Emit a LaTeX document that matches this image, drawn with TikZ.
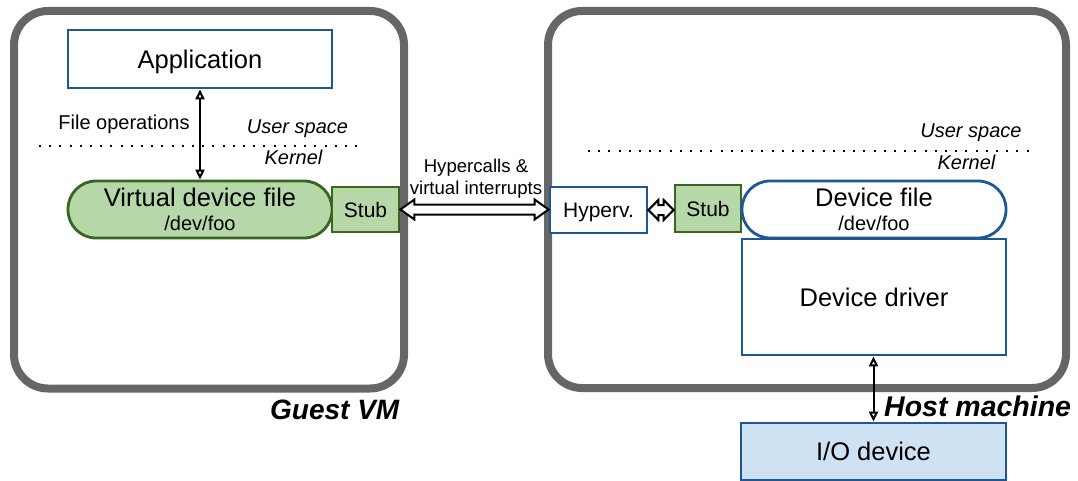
\documentclass[tikz,border=0pt]{standalone}
\usepackage{fontspec}
\setmainfont{Liberation Sans}
\usetikzlibrary{arrows.meta,calc}
\definecolor{bordblue}{RGB}{31,86,150}
\definecolor{lgreen}{HTML}{B6D7A8}
\definecolor{dgreen}{HTML}{38661E}
\definecolor{lblue}{HTML}{CFE2F3}
\definecolor{framegray}{HTML}{666666}
\tikzset{
  machine/.style={draw=framegray, line width=8pt, rounded corners=34pt},
  bluebox/.style={draw=bordblue, line width=2.8pt, fill=white, inner sep=0pt},
  greenbox/.style={draw=dgreen, line width=2.8pt, fill=lgreen, inner sep=0pt},
  pill/.style={rounded corners=28pt, inner sep=0pt, align=center},
  bigfont/.style={font=\fontsize{25.5}{27}\selectfont},
  midfont/.style={font=\fontsize{21}{24}\selectfont},
  smallfont/.style={font=\fontsize{20}{23}\selectfont},
  thinarrow/.style={line width=2pt, {Triangle[open,length=10pt,width=9pt]}-{Triangle[open,length=10pt,width=9pt]}},
  fatarrow/.style={line width=2pt, fill=white, line join=miter},
  sep/.style={line width=2pt, dash pattern=on 2pt off 8.2pt},
  lbl/.style={inner sep=0pt, anchor=base},
}
\begin{document}
\begin{tikzpicture}[x=1pt,y=-1pt]
\useasboundingbox (0,0) rectangle (1078,481);
% machines
\draw[machine] (14,11) rectangle (404,388.5);
\draw[machine] (548,11) rectangle (1066,388);
% nodes
\node[bluebox, bigfont, text depth=0pt, minimum width=264pt, minimum height=58pt] (app) at (200,59) {Application};
\node[greenbox, pill, bigfont, minimum width=264pt, minimum height=57pt] (vdf) at (200,209.5)
  {Virtual device file\\[-3pt]{\fontsize{20}{22}\selectfont /dev/foo}};
\node[greenbox, midfont, minimum width=67pt, minimum height=45pt] (stubL) at (365.5,209.5) {Stub};
\node[bluebox, midfont, text depth=0pt, minimum width=97pt, minimum height=46pt] (hyp) at (598.5,210) {Hyperv.};
\node[greenbox, midfont, minimum width=66pt, minimum height=47pt] (stubR) at (708,208.5) {Stub};
\node[bluebox, pill, bigfont, minimum width=264pt, minimum height=57pt] (df) at (874,209.5)
  {Device file\\[-3pt]{\fontsize{20}{22}\selectfont /dev/foo}};
\node[bluebox, bigfont, minimum width=264pt, minimum height=116pt] (drv) at (874,297) {Device driver};
\node[bluebox, fill=lblue, bigfont, minimum width=265pt, minimum height=57pt] (io) at (873.5,451.5) {I/O device};
% separators
\draw[sep] (39,146) -- (363,146);
\draw[sep] (588,151) -- (1035,151);
% labels
\node[lbl, smallfont] (fileops) at (124,130) {File operations};
\node[lbl, font=\fontsize{20}{23}\selectfont\itshape] (us1) at (297.5,134) {User space};
\node[lbl, font=\fontsize{20}{23}\selectfont\itshape] (k1) at (293.5,165) {Kernel};
\node[lbl, font=\fontsize{20}{23}\selectfont\itshape] (us2) at (971,138) {User space};
\node[lbl, font=\fontsize{20}{23}\selectfont\itshape] (k2) at (966.5,170) {Kernel};
\node[lbl, font=\fontsize{18.6}{23}\selectfont, align=center] (hc) at (476,195) {Hypercalls \&\\virtual interrupts};
\node[inner sep=0pt, anchor=base west, font=\fontsize{28}{30}\selectfont\bfseries\itshape] (guest) at (270,419) {Guest VM};
\node[inner sep=0pt, anchor=base west, font=\fontsize{28.5}{30}\selectfont\bfseries\itshape] (host) at (884,416) {Host machine};
% connectors
\draw[thinarrow] (app.south) -- (app.south |- vdf.north);
\draw[thinarrow] (drv.south -| io.north) -- (io.north);
\draw[fatarrow] let \p1=(stubL.east), \p2=(hyp.west) in
  (\x1,\y1) -- (\x1+14pt,\y1+10pt) -- (\x1+14pt,\y1+5pt) -- (\x2-14pt,\y1+5pt) -- (\x2-14pt,\y1+10pt)
  -- (\x2,\y1) -- (\x2-14pt,\y1-10pt) -- (\x2-14pt,\y1-5pt) -- (\x1+14pt,\y1-5pt) -- (\x1+14pt,\y1-10pt) -- cycle;
\draw[fatarrow] let \p1=(hyp.east), \p2=(stubR.west) in
  (\x1,\y1) -- (\x1+10pt,\y1+10pt) -- (\x1+10pt,\y1+5pt) -- (\x2-10pt,\y1+5pt) -- (\x2-10pt,\y1+10pt)
  -- (\x2,\y1) -- (\x2-10pt,\y1-10pt) -- (\x2-10pt,\y1-5pt) -- (\x1+10pt,\y1-5pt) -- (\x1+10pt,\y1-10pt) -- cycle;
\end{tikzpicture}
\end{document}
